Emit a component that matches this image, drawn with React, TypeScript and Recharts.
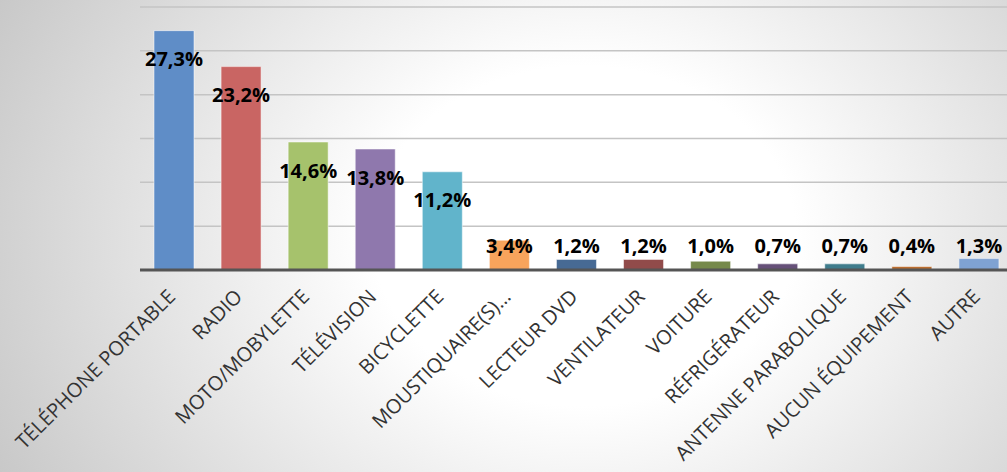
import { BarChart, Bar, XAxis, YAxis, CartesianGrid, Cell, LabelList } from 'recharts';

const categories = [
  'TÉLÉPHONE PORTABLE', 'RADIO', 'MOTO/MOBYLETTE', 'TÉLÉVISION', 'BICYCLETTE',
  'MOUSTIQUAIRE(S)…', 'LECTEUR DVD', 'VENTILATEUR', 'VOITURE', 'RÉFRIGÉRATEUR',
  'ANTENNE PARABOLIQUE', 'AUCUN ÉQUIPEMENT', 'AUTRE',
];
const values = [27.3, 23.2, 14.6, 13.8, 11.2, 3.4, 1.2, 1.2, 1.0, 0.7, 0.7, 0.4, 1.3];
const colors = [
  '#5f8dc7', '#c96563', '#a6c26c', '#8f78ad', '#61b4cb', '#f8a45c',
  '#476a94', '#914b4a', '#76894b', '#665179', '#3f7c8c', '#bb6e30', '#7fa2d2',
];
const yTicks = [0, 5, 10, 15, 20, 25, 30];

const data = categories.map((name, i) => ({ name, value: values[i] }));

const fmt = (v: number) => v.toFixed(1).replace('.', ',') + '%';

const ValueLabel = (props: any) => {
  const { x, y, width, height, value } = props;
  const cy = Math.min(y + 28, y + height - 25);
  return (
    <text x={x + width / 2} y={cy} textAnchor="middle" dominantBaseline="central"
      fontFamily="'Open Sans', sans-serif" fontWeight={700} fontSize={20} fill="#000">
      {fmt(value)}
    </text>
  );
};

const CategoryTick = ({ x, y, payload }: any) => (
  <g transform={`translate(${x + 3},${y + 20})`}>
    <text x={0} y={0} textAnchor="end" transform="rotate(-45)"
      fontFamily="'Open Sans', sans-serif" fontSize={20} fill="#333">
      {payload.value}
    </text>
  </g>
);

export default function App() {
  return (
    <div style={{
      position: 'absolute', left: 0, top: 0, width: 1007, height: 472, overflow: 'hidden',
      background: 'radial-gradient(ellipse 70% 120% at 58% 50%, #ffffff 30%, #c2c2c2 100%)',
    }}>
      <BarChart width={1012} height={472} data={data}
        margin={{ top: 7, right: 0, left: 140, bottom: 0 }} barSize={40}>
        <CartesianGrid horizontal vertical={false} stroke="#c4c4c4" strokeWidth={1.5} />
        <YAxis hide domain={[0, 30]} ticks={yTicks} />
        <XAxis dataKey="name" height={202} interval={0} tickLine={false}
          axisLine={{ stroke: '#555', strokeWidth: 3 }} tick={<CategoryTick />} />
        <Bar dataKey="value" isAnimationActive={false} stroke="#ffffff" strokeOpacity={0.5} strokeWidth={1}>
          {data.map((d, i) => <Cell key={d.name} fill={colors[i]} />)}
          <LabelList dataKey="value" content={<ValueLabel />} />
        </Bar>
      </BarChart>
    </div>
  );
}
